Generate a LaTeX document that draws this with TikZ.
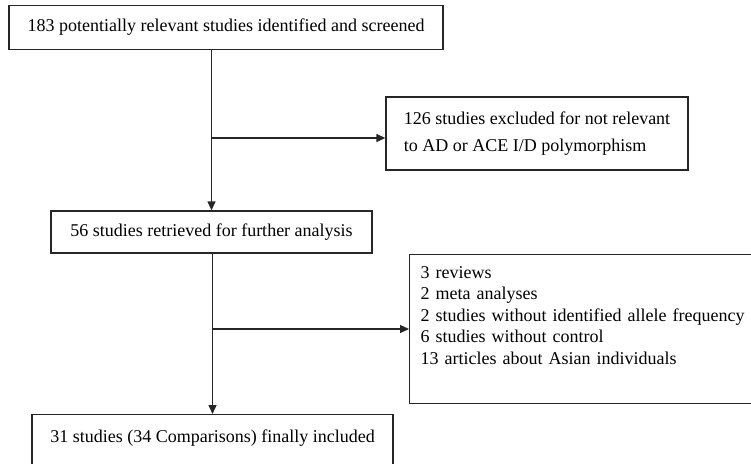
\documentclass[tikz,border=0pt]{standalone}
\usepackage{fontspec}
\setmainfont{Liberation Serif}
\usetikzlibrary{arrows.meta}
\begin{document}
\begin{tikzpicture}[x=1pt,y=-1pt,
  box/.style={draw=black!85, line width=1.3pt, inner sep=0pt, font=\fontsize{18}{21.5}\selectfont},
  conn/.style={draw=black!85, line width=1.3pt},
  arr/.style={conn, -{Triangle[length=9pt,width=8pt]}}]
\useasboundingbox (0,0) rectangle (751,463);
\node[box, minimum width=434pt, minimum height=44pt] (b1) at (226,27.5)
  {183 potentially relevant studies identified and screened};
\node[box, minimum width=302pt, minimum height=73pt, align=left,
  font=\fontsize{18}{27}\selectfont] (e1) at (537,133.5)
  {126 studies excluded for not relevant\\to AD or ACE I/D polymorphism};
\node[box, minimum width=321pt, minimum height=42pt] (b2) at (211.5,232)
  {56 studies retrieved for further analysis};
\node[box, anchor=north west, inner xsep=11pt, inner ysep=0pt, text width=340pt, align=left,
  text height=23.5pt, text depth=125.5pt] (e2) at (409,254)
  {3 reviews\\2 meta analyses\\2 studies without identified allele frequency\\6 studies without control\\13 articles about Asian individuals};
\node[box, anchor=north, minimum width=361pt, inner ysep=0pt, text height=28pt, text depth=40pt] (b4) at (212.5,414)
  {31 studies (34 Comparisons) finally included};
\coordinate (j1) at (211.5,138);
\coordinate (j2) at (211.5,329);
\draw[arr] (b1.south -| b2.north) -- (b2.north);
\draw[arr] (j1) -- (j1 -| e1.west);
\draw[arr] (b2.south) -- (b2.south -| b4.north) -- (b4.north);
\draw[arr] (j2) -- (j2 -| e2.west);
\end{tikzpicture}
\end{document}
